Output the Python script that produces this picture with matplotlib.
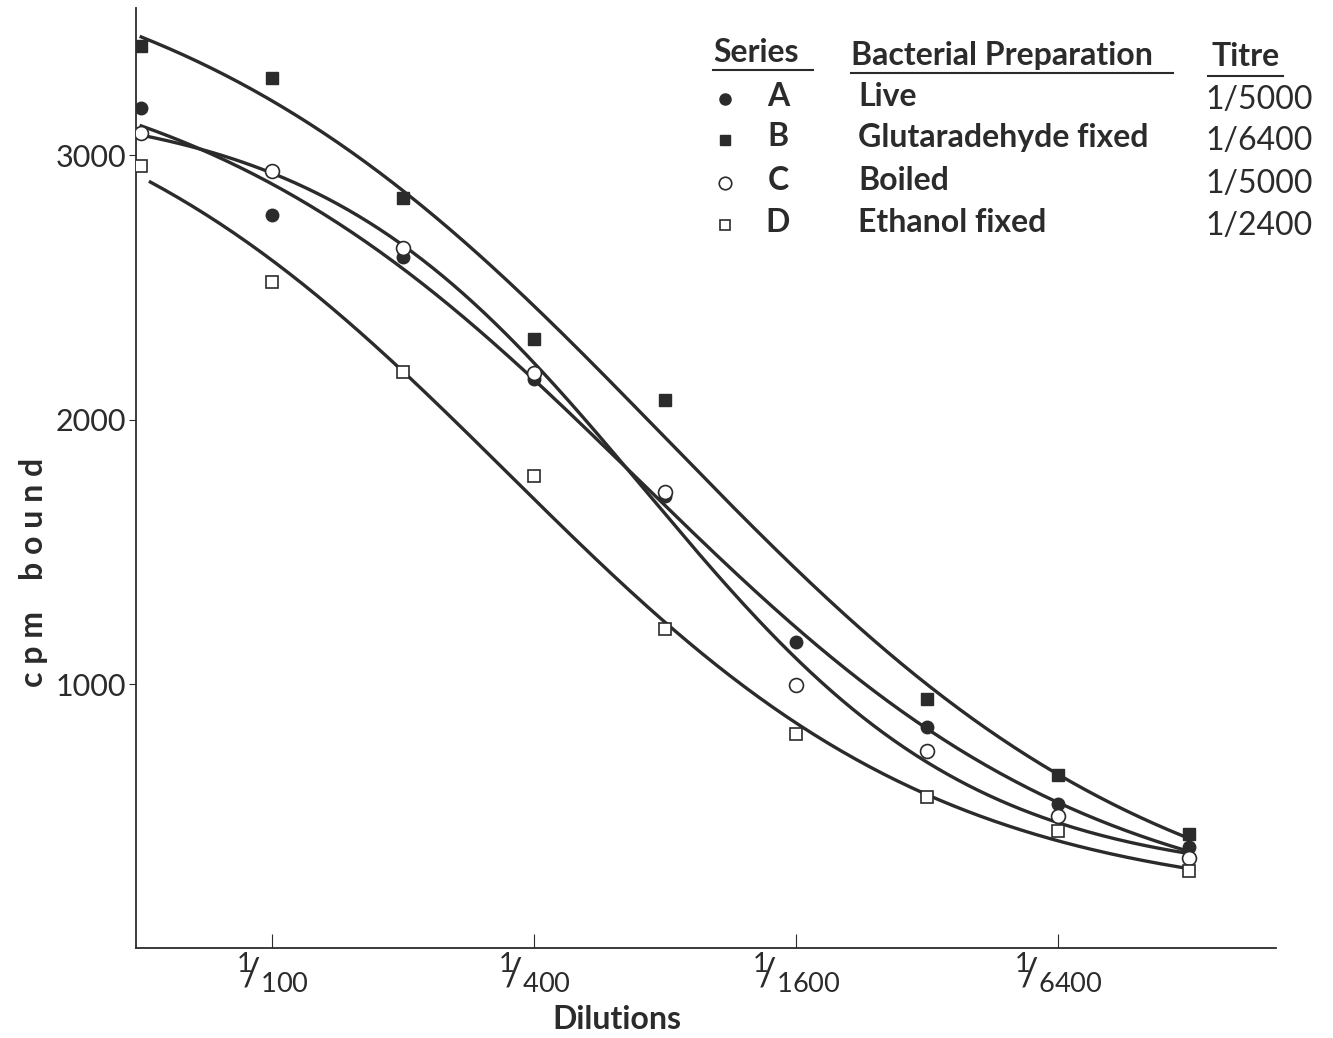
import numpy as np
import matplotlib.pyplot as plt
from matplotlib.lines import Line2D

# dilution steps 1/50 ... 1/12800 (doubling), plotted at equal spacing
dil_index = [0, 1, 2, 3, 4, 5, 6, 7, 8]
tick_index = [1, 3, 5, 7]
tick_labels = [r"$^1\!\!/_{100}$", r"$^1\!\!/_{400}$", r"$^1\!\!/_{1600}$", r"$^1\!\!/_{6400}$"]

series_A = [3177, 2774, 2615, 2155, 1713, 1162, 838, 547, 385]
series_B = [3411, 3291, 2838, 2306, 2075, None, 943, 657, 434]
series_C = [3083, 2940, 2649, 2177, 1728, 996, 747, 502, 343]
series_D = [2958, 2521, 2181, 1789, 1211, 811, 574, 445, 294]

names = ["A", "B", "C", "D"]
preps = ["Live", "Glutaradehyde fixed", "Boiled", "Ethanol fixed"]
titres = ["1/5000", "1/6400", "1/5000", "1/2400"]

ink = "#2b2b2b"
plt.rcParams["font.family"] = ["Lato", "DejaVu Sans"]
plt.rcParams["mathtext.fontset"] = "custom"
plt.rcParams["mathtext.rm"] = "Lato"
plt.rcParams["mathtext.it"] = "Lato"


def logistic_fit(x, y):
    # y = d + (a - d) / (1 + exp(k (x - c))), grid over k, c; a, d by least squares
    best = None
    for k in np.linspace(0.3, 2.0, 69):
        for c in np.linspace(1.0, 6.0, 101):
            g = 1.0 / (1.0 + np.exp(k * (x - c)))
            A = np.column_stack([g, 1 - g])
            sol, *_ = np.linalg.lstsq(A, y, rcond=None)
            err = np.sum((A @ sol - y) ** 2)
            if best is None or err < best[0]:
                best = (err, k, c, sol)
    _, k, c, (a, d) = best
    return lambda t: d + (a - d) / (1.0 + np.exp(k * (t - c)))


fig = plt.figure(figsize=(13.33, 10.38), dpi=100)
ax = fig.add_axes([0.102, 0.087, 0.855, 0.905])

styles = [
    dict(marker="o", mfc=ink, mec=ink, ms=9),
    dict(marker="s", mfc=ink, mec=ink, ms=8),
    dict(marker="o", mfc="white", mec=ink, ms=10, mew=1.2),
    dict(marker="s", mfc="white", mec=ink, ms=8, mew=1.2),
]
all_series = [series_A, series_B, series_C, series_D]
starts = [0, 0, 0, 0.07]

for vals, st, x0 in zip(all_series, styles, starts):
    x = np.array([i for i, v in zip(dil_index, vals) if v is not None], float)
    y = np.array([v for v in vals if v is not None], float)
    ax.plot(x, y, linestyle="none", zorder=3, **st)
    f = logistic_fit(x, y)
    xs = np.linspace(x0, 8, 300)
    ax.plot(xs, f(xs), color=ink, lw=2.4, zorder=2)

ax.set_xlim(-0.04, 8.66)
ax.set_ylim(5, 3555)
ax.spines["top"].set_visible(False)
ax.spines["right"].set_visible(False)
ax.spines["left"].set_color(ink)
ax.spines["bottom"].set_color(ink)
ax.spines["left"].set_linewidth(1.3)
ax.spines["bottom"].set_linewidth(1.3)

ax.set_yticks([1000, 2000, 3000])
ax.set_yticklabels(["1000", "2000", "3000"], fontsize=22, color=ink)
ax.tick_params(axis="y", direction="out", length=5, color=ink, pad=2)
ax.set_xticks(tick_index)
ax.set_xticklabels(tick_labels, fontsize=28, color=ink)
ax.tick_params(axis="x", direction="in", length=10, color=ink, pad=2)

ax.set_xlabel("Dilutions", fontsize=23, fontweight="bold", color=ink)
ax.xaxis.set_label_coords(0.422, -0.061)
ax.set_ylabel("c p m    b o u n d", fontsize=23, fontweight="bold", color=ink)
ax.yaxis.set_label_coords(-0.077, 0.40)

# legend table
W, H = 1333, 1038
def fx(px):
    return px / W
def fy(py):
    return 1 - py / H

hdr = dict(fontsize=23, fontweight="bold", color=ink, va="center")
fig.text(fx(713), fy(52), "Series", **hdr)
fig.text(fx(851), fy(55), "Bacterial Preparation", **hdr)
fig.text(fx(1211), fy(57), "Titre", **hdr)
for x1, x2, yy in [(713, 813, 70), (851, 1173, 73), (1208, 1283, 76)]:
    fig.add_artist(Line2D([fx(x1), fx(x2)], [fy(yy), fy(yy)], color=ink, lw=1.5))

rows_y = [96, 137, 180, 222]
leg_ms = [8, 7, 9, 7]
for st, ms, nm, pr, ti, yy in zip(styles, leg_ms, names, preps, titres, rows_y):
    s = dict(st)
    s["ms"] = ms
    fig.add_artist(Line2D([fx(725)], [fy(yy + 3)], linestyle="none", **s))
    fig.text(fx(778), fy(yy), nm, fontsize=23, fontweight="bold", color=ink,
             ha="center", va="center")
    fig.text(fx(858), fy(yy), pr, fontsize=23, fontweight="bold", color=ink, va="center")
    fig.text(fx(1205), fy(yy + 4), ti, fontsize=23, color=ink, va="center")

fig.savefig("out.png", dpi=100)
